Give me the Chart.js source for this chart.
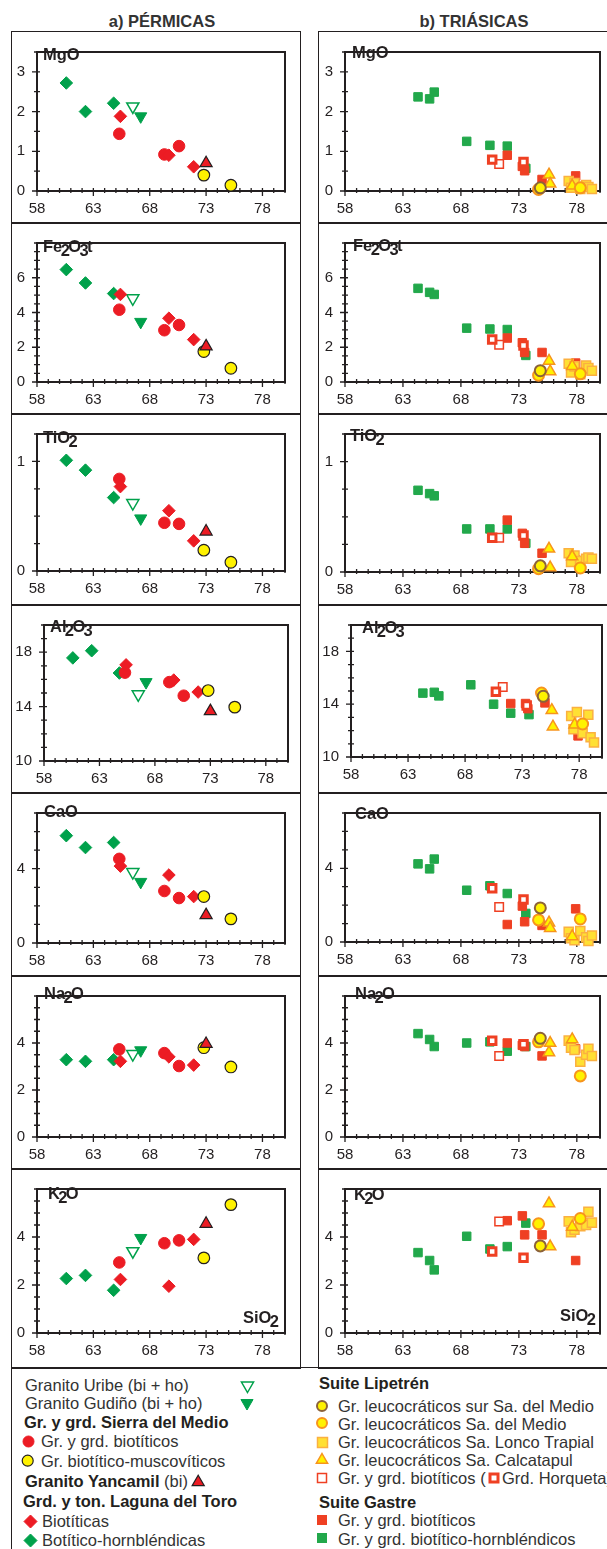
<!DOCTYPE html>
<html lang="es">
<head>
<meta charset="utf-8">
<title>Diagramas de Harker - granitoides pérmicos y triásicos</title>
<script src="https://cdn.jsdelivr.net/npm/chart.js@4.4.1/dist/chart.umd.min.js"></script>
<style>
  body { margin: 0; background: #fff; }
  #page { position: relative; width: 607px; height: 1549px; overflow: hidden;
          font-family: "Liberation Sans", Arial, Helvetica, sans-serif; color: #231f20; }
  .box { position: absolute; box-sizing: border-box; border: 1.5px solid #231f20; }
  .panel { position: absolute; }
  .ox { position: absolute; font-weight: bold; font-size: 16.5px; line-height: 16px; white-space: nowrap; }
  .ox sub { font-size: 1em; vertical-align: baseline; position: relative; top: 0.3em; margin: 0 -0.1em; }
  .title { position: absolute; top: 12px; font-weight: bold; font-size: 16.5px; line-height: 18px;
           color: #333; transform: translateX(-50%); white-space: nowrap; }
  .leg { position: absolute; font-size: 16.5px; line-height: 18px; white-space: nowrap; color: #333; }
  .leg b { color: #231f20; }
  svg.mk { position: absolute; overflow: visible; }
</style>
</head>
<body>
<div id="page">
  <div class="title" style="left:162px">a) PÉRMICAS</div>
  <div class="title" style="left:474px">b) TRIÁSICAS</div>

  <div class="box" style="left:11px; top:1367px; width:610px; height:200px; border-right:none; border-bottom:none"></div>

  <div class="leg" style="left:25px; top:1376px">Granito Uribe (bi + ho)</div>
  <div class="leg" style="left:25px; top:1394px">Granito Gudiño (bi + ho)</div>
  <div class="leg" style="left:24px; top:1413px"><b>Gr. y grd. Sierra del Medio</b></div>
  <div class="leg" style="left:41px; top:1432px">Gr. y grd. biotíticos</div>
  <div class="leg" style="left:41px; top:1452px">Gr. biotítico-muscovíticos</div>
  <div class="leg" style="left:25px; top:1472px"><b>Granito Yancamil</b> (bi)</div>
  <div class="leg" style="left:23px; top:1492px"><b>Grd. y ton. Laguna del Toro</b></div>
  <div class="leg" style="left:42px; top:1512px">Biotíticas</div>
  <div class="leg" style="left:42px; top:1531px">Botítico-hornbléndicas</div>

  <div class="leg" style="left:319px; top:1374px"><b>Suite Lipetrén</b></div>
  <div class="leg" style="left:338px; top:1397px">Gr. leucocráticos sur Sa. del Medio</div>
  <div class="leg" style="left:338px; top:1415px">Gr. leucocráticos Sa. del Medio</div>
  <div class="leg" style="left:338px; top:1433px">Gr. leucocráticos Sa. Lonco Trapial</div>
  <div class="leg" style="left:338px; top:1451px">Gr. leucocráticos Sa. Calcatapul</div>
  <div class="leg" style="left:338px; top:1469px">Gr. y grd. biotíticos (</div>
  <div class="leg" style="left:502px; top:1469px">Grd. Horqueta)</div>
  <div class="leg" style="left:319px; top:1493px"><b>Suite Gastre</b></div>
  <div class="leg" style="left:338px; top:1511px">Gr. y grd. biotíticos</div>
  <div class="leg" style="left:338px; top:1530px">Gr. y grd. biotítico-hornbléndicos</div>
</div>

<script>
// SiO2 axis (wt %)
const xLabels = [58, 63, 68, 73, 78];

// oxide order in every value list: MgO, Fe2O3t, TiO2, Al2O3, CaO, Na2O, K2O
const oxideNames = ['MgO', 'Fe<sub>2</sub>O<sub>3</sub>t', 'TiO<sub>2</sub>', 'Al<sub>2</sub>O<sub>3</sub>',
                    'CaO', 'Na<sub>2</sub>O', 'K<sub>2</sub>O'];
const yMin = [0, 0, 0, 10, 0, 0, 0];
const yMax = [3.5, 8, 1.25, 20, 7, 6, 6];
const yLabels = [[0, 1, 2, 3], [0, 2, 4, 6], [0, 1], [10, 14, 18], [0, 4], [0, 2, 4], [0, 2, 4]];
const yMinor = [0.5, 0.5, 0.25, 1, 1, 0.5, 0.5];

// ---- a) Pérmicas ----
const uribeSi = [66.5];
const uribeOx = [[2.13], [4.82], [0.62], [14.9], [3.82], [3.53], [3.41]];

const gudinoSi = [67.2];
const gudinoOx = [[1.88], [3.46], [0.48], [15.8], [3.29], [3.69], [3.96]];

const smBioSi = [65.3, 69.3, 70.6];
const smBioOx = [[1.44, 0.92, 1.13], [4.16, 2.98, 3.28], [0.84, 0.44, 0.43], [16.5, 15.8, 14.8],
                 [4.53, 2.8, 2.42], [3.73, 3.57, 3.02], [2.94, 3.74, 3.86]];

const smMusSi = [72.8, 75.2];
const smMusOx = [[0.4, 0.145], [1.75, 0.79], [0.19, 0.08], [15.18, 13.96], [2.5, 1.3], [3.8, 2.98], [3.13, 5.35]];

const yancamilSi = [73.0];
const yancamilOx = [[0.7], [2.05], [0.36], [13.67], [1.5], [3.96], [4.55]];

const ltBioSi = [65.4, 69.7, 71.9];
const ltBioOx = [[1.88, 0.9, 0.61], [5.04, 3.67, 2.44], [0.77, 0.55, 0.275], [17.07, 15.95, 15.07],
                 [4.14, 3.66, 2.5], [3.22, 3.41, 3.06], [2.23, 1.95, 3.9]];

const ltHbSi = [60.6, 62.3, 64.8];
const ltHbOx = [[2.72, 2.0, 2.21], [6.47, 5.7, 5.09], [1.01, 0.92, 0.67], [17.58, 18.11, 16.47],
                [5.78, 5.14, 5.41], [3.29, 3.22, 3.29], [2.27, 2.4, 1.78]];

// ---- b) Triásicas ----
const gastreHbSi = [64.3, 65.3, 65.7, 68.5, 70.5, 72.0, 73.6];
const gastreHbOx = [[2.37, 2.32, 2.49, 1.25, 1.15, 1.13, 0.57],
                    [5.39, 5.16, 5.04, 3.1, 3.05, 3.02, 1.53],
                    [0.74, 0.71, 0.69, 0.39, 0.39, 0.39, 0.26],
                    [14.84, 14.9, 14.63, 15.47, 14.0, 13.32, 13.21],
                    [4.24, 3.97, 4.5, 2.81, 3.05, 2.63, 1.55],
                    [4.4, 4.15, 3.85, 4.0, 4.05, 3.65, 3.85],
                    [3.35, 3.02, 2.63, 4.03, 3.5, 3.6, 4.58]];

const gastreBioSi = [72.0, 73.3, 73.5, 75.0, 77.9];
const gastreBioOx = [[0.9, 0.62, 0.51, 0.29, 0.38],
                     [2.53, 2.26, 1.7, 1.7, 1.09],
                     [0.47, 0.35, 0.26, 0.17, 0.11],
                     [14.05, 14.05, 13.66, 14.1, 11.6],
                     [0.95, 1.95, 1.1, 0.9, 1.8],
                     [4.0, 3.9, 3.85, 3.45, 3.75],
                     [4.68, 4.88, 4.09, 4.09, 3.02]];

const horquetaSi = [70.7, 73.4];
const horquetaOx = [[0.79, 0.73], [2.44, 2.1], [0.31, 0.33], [14.95, 13.9], [2.92, 2.3], [4.1, 3.95], [3.4, 3.14]];

const lipBioSi = [71.3];
const lipBioOx = [[0.68], [2.14], [0.31], [15.3], [1.9], [3.45], [4.65]];

const lipSurSi = [74.85];
const lipSurOx = [[0.08], [0.65], [0.056], [14.6], [1.85], [4.2], [3.63]];

const lipMedioSi = [74.7, 78.3];
const lipMedioOx = [[0.04, 0.08], [0.39, 0.47], [0.03, 0.036], [14.84, 12.5], [1.2, 1.25], [4.05, 2.6], [4.55, 4.77]];

const calcaSi = [75.6, 75.7, 77.6];
const calcaOx = [[0.41, 0.18, 0.13], [1.21, 0.61, 0.91], [0.21, 0.04, 0.14], [13.55, 12.3, 12.45],
                 [1.05, 0.75, 0.3], [3.6, 4.0, 4.15], [5.4, 3.6, 4.42]];

const loncoSi = [77.3, 77.5, 77.8, 78.3, 78.8, 79.0, 79.3];
const loncoOx = [[0.25, 0.08, 0.2, 0.05, 0.15, 0.1, 0.05],
                 [1.05, 0.55, 0.9, 0.45, 0.95, 0.8, 0.65],
                 [0.17, 0.09, 0.15, 0.1, 0.12, 0.13, 0.12],
                 [13.1, 12.1, 13.4, 11.8, 13.2, 11.5, 11.1],
                 [0.55, 0.2, 0.1, 0.6, 0.25, 0.05, 0.35],
                 [4.1, 3.8, 3.7, 3.2, 3.5, 3.75, 3.45],
                 [4.65, 4.2, 4.3, 4.45, 4.5, 5.05, 4.6]];

// colours
const ink = '#231f20';
const redA = '#ec1c24';
const greenA = '#00a14b';
const yellow = '#fff200';
const redB = '#ef4023';
const greenB = '#22a84b';
const orange = '#f7941d';
const brown = '#8c6239';
const loncoFill = '#ffe033';
const loncoEdge = '#fbb040';

// page layout (px)
const rowTop = [31, 222, 413, 604, 792, 975, 1168];
const rowBottom = [222, 413, 604, 792, 975, 1168, 1367];
const colLeft = [11, 318];
const colRight = [301, 616];
const areasA = [[37, 38, 285, 191], [37, 231, 285, 382], [37, 420, 285, 571], [44, 611, 288, 761],
                [37, 798, 285, 943], [37, 984, 285, 1137], [37, 1176, 285, 1333]];
const areasB = [[345, 36, 600, 191], [345, 230, 600, 382], [345, 422, 600, 572], [351, 611, 602, 757],
                [345, 796, 600, 942], [345, 984, 600, 1137], [345, 1177, 600, 1333]];
const labelPosA = [[43, 59], [43, 251], [43, 442], [50, 631], [44, 816], [44, 998], [48, 1198]];
const labelPosB = [[352, 57], [353, 250], [350, 440], [362, 632], [355, 818], [355, 998], [354, 1199]];

const tickFont = { family: '"Liberation Sans", Arial, sans-serif', size: 15 };

// marker looks
function look(style, radius, fill, edge, width, rotation) {
    return {
        pointStyle: style,
        pointRadius: radius,
        pointBackgroundColor: fill,
        pointBorderColor: edge,
        pointBorderWidth: width,
        pointRotation: rotation || 0
    };
}

// first entry is drawn on top
const groupsA = [
    [yancamilSi, yancamilOx, look('triangle', 7, redA, ink, 1.2)],
    [smMusSi, smMusOx, look('circle', 5.8, yellow, ink, 1.2)],
    [ltBioSi, ltBioOx, look('rectRot', 6.3, redA, redA, 1)],
    [smBioSi, smBioOx, look('circle', 5.8, redA, redA, 1)],
    [gudinoSi, gudinoOx, look('triangle', 7, greenA, greenA, 1, 180)],
    [uribeSi, uribeOx, look('triangle', 7, '#fff', greenA, 1.5, 180)],
    [ltHbSi, ltHbOx, look('rectRot', 6.3, greenA, greenA, 1)]
];

const groupsB = [
    [lipSurSi, lipSurOx, look('circle', 5.5, yellow, brown, 2)],
    [lipMedioSi, lipMedioOx, look('circle', 5.5, yellow, orange, 2)],
    [calcaSi, calcaOx, look('triangle', 6.5, yellow, orange, 1.5)],
    [loncoSi, loncoOx, look('rect', 6.4, loncoFill, loncoEdge, 1.5)],
    [horquetaSi, horquetaOx, look('rect', 5.3, '#fff', redB, 3)],
    [lipBioSi, lipBioOx, look('rect', 6, '#fff', redB, 1.5)],
    [gastreBioSi, gastreBioOx, look('rect', 6, redB, redB, 1)],
    [gastreHbSi, gastreHbOx, look('rect', 6, greenB, greenB, 1)]
];

// frame round the plot area plus major/minor tick marks
const frameTicks = {
    id: 'frameTicks',
    beforeDatasetsDraw(chart, args, opts) {
        const { ctx, chartArea: a } = chart;
        const x = chart.scales.x;
        const y = chart.scales.y;
        ctx.save();
        ctx.strokeStyle = ink;
        ctx.lineWidth = 1.3;
        ctx.beginPath();
        for (let v = 58; v <= 80; v++) {
            const px = x.getPixelForValue(v);
            const major = xLabels.includes(v);
            ctx.moveTo(px, a.bottom - 3);
            ctx.lineTo(px, a.bottom + (major ? 5 : 2));
        }
        for (let v = y.min; v <= y.max + 1e-9; v += opts.minor) {
            const py = y.getPixelForValue(v);
            const major = opts.major.some(m => Math.abs(m - v) < 1e-6);
            ctx.moveTo(a.left - (major ? 5 : 3), py);
            ctx.lineTo(a.left + 3, py);
        }
        ctx.stroke();
        ctx.lineWidth = 2;
        ctx.strokeRect(a.left, a.top, a.right - a.left, a.bottom - a.top);
        ctx.restore();
    }
};

const page = document.getElementById('page');

function makePanel(col, row) {
    const left = colLeft[col];
    const right = colRight[col];
    const top = rowTop[row];
    const bottom = rowBottom[row];
    const area = (col === 0 ? areasA : areasB)[row];
    const groups = col === 0 ? groupsA : groupsB;

    const box = document.createElement('div');
    box.className = 'box';
    box.style.cssText = `left:${left}px;top:${top}px;width:${right - left}px;height:${bottom - top + 1.5}px`;
    page.appendChild(box);

    const canvas = document.createElement('canvas');
    canvas.className = 'panel';
    canvas.width = right - left;
    canvas.height = bottom - top;
    canvas.style.left = left + 'px';
    canvas.style.top = top + 'px';
    page.appendChild(canvas);

    const datasets = groups.map(([si, ox, style]) => Object.assign({
        data: si.map((s, i) => ({ x: s, y: ox[row][i] })),
        clip: false
    }, style));

    new Chart(canvas, {
        type: 'scatter',
        data: { datasets },
        options: {
            responsive: false,
            animation: false,
            events: [],
            layout: { padding: { left: 0, top: area[1] - top, right: right - area[2], bottom: 0 } },
            plugins: {
                legend: { display: false },
                tooltip: { enabled: false },
                frameTicks: { minor: yMinor[row], major: yLabels[row] }
            },
            scales: {
                x: {
                    type: 'linear',
                    min: 58,
                    max: 80,
                    grid: { display: false, drawTicks: false },
                    border: { display: false },
                    afterBuildTicks: s => { s.ticks = xLabels.map(v => ({ value: v })); },
                    afterFit: s => { s.height = bottom - area[3]; },
                    ticks: { padding: 9, color: ink, font: tickFont, autoSkip: false, maxRotation: 0 }
                },
                y: {
                    type: 'linear',
                    min: yMin[row],
                    max: yMax[row],
                    grid: { display: false, drawTicks: false },
                    border: { display: false },
                    afterBuildTicks: s => { s.ticks = yLabels[row].map(v => ({ value: v })); },
                    afterFit: s => { s.width = area[0] - left; },
                    ticks: { padding: 12, color: ink, font: tickFont, autoSkip: false }
                }
            }
        },
        plugins: [frameTicks]
    });

    const pos = (col === 0 ? labelPosA : labelPosB)[row];
    const label = document.createElement('div');
    label.className = 'ox';
    label.innerHTML = oxideNames[row];
    label.style.left = pos[0] + 'px';
    label.style.top = (pos[1] - 13.5) + 'px';
    page.appendChild(label);
}

for (let row = 0; row < 7; row++) {
    makePanel(0, row);
    makePanel(1, row);
}

// SiO2 axis name in the bottom panels
[[243, 1322], [560, 1320]].forEach(([x, y]) => {
    const d = document.createElement('div');
    d.className = 'ox';
    d.innerHTML = 'SiO<sub>2</sub>';
    d.style.left = x + 'px';
    d.style.top = (y - 13.5) + 'px';
    page.appendChild(d);
});

// legend symbols
const NS = 'http://www.w3.org/2000/svg';
function mark(x, y, shape, fill, stroke, sw, r) {
    const s = r + sw + 1;
    const svg = document.createElementNS(NS, 'svg');
    svg.setAttribute('class', 'mk');
    svg.setAttribute('width', 2 * s);
    svg.setAttribute('height', 2 * s);
    svg.style.left = (x - s) + 'px';
    svg.style.top = (y - s) + 'px';
    let el;
    if (shape === 'circle') {
        el = document.createElementNS(NS, 'circle');
        el.setAttribute('cx', s);
        el.setAttribute('cy', s);
        el.setAttribute('r', r);
    } else if (shape === 'square') {
        el = document.createElementNS(NS, 'rect');
        el.setAttribute('x', s - r);
        el.setAttribute('y', s - r);
        el.setAttribute('width', 2 * r);
        el.setAttribute('height', 2 * r);
    } else {
        let pts;
        const h = r * 0.866;
        if (shape === 'tri') pts = [[s, s - r], [s + h, s + r / 2], [s - h, s + r / 2]];
        if (shape === 'triDown') pts = [[s, s + r], [s + h, s - r / 2], [s - h, s - r / 2]];
        if (shape === 'diamond') pts = [[s, s - r], [s + r, s], [s, s + r], [s - r, s]];
        el = document.createElementNS(NS, 'polygon');
        el.setAttribute('points', pts.map(p => p.join(',')).join(' '));
    }
    el.setAttribute('fill', fill);
    el.setAttribute('stroke', stroke);
    el.setAttribute('stroke-width', sw);
    svg.appendChild(el);
    page.appendChild(svg);
}

mark(247, 1385, 'triDown', '#fff', greenA, 1.5, 7);
mark(247, 1403, 'triDown', greenA, greenA, 1, 7);
mark(28, 1441, 'circle', redA, redA, 1, 5.5);
mark(28, 1461, 'circle', yellow, ink, 1.2, 5.5);
mark(198, 1482, 'tri', redA, ink, 1.2, 7);
mark(30, 1521, 'diamond', redA, redA, 1, 6.5);
mark(30, 1540, 'diamond', greenA, greenA, 1, 6.5);

mark(322, 1406, 'circle', yellow, brown, 2, 5);
mark(322, 1423, 'circle', yellow, orange, 2, 5);
mark(322, 1442, 'square', loncoFill, loncoEdge, 1.5, 5);
mark(322, 1460, 'tri', yellow, orange, 1.5, 6.5);
mark(322, 1478, 'square', '#fff', redB, 1.5, 4.5);
mark(494, 1478, 'square', '#fff', redB, 3, 4);
mark(322, 1520, 'square', redB, redB, 0, 5);
mark(322, 1538, 'square', greenB, greenB, 0, 5);
</script>
</body>
</html>
